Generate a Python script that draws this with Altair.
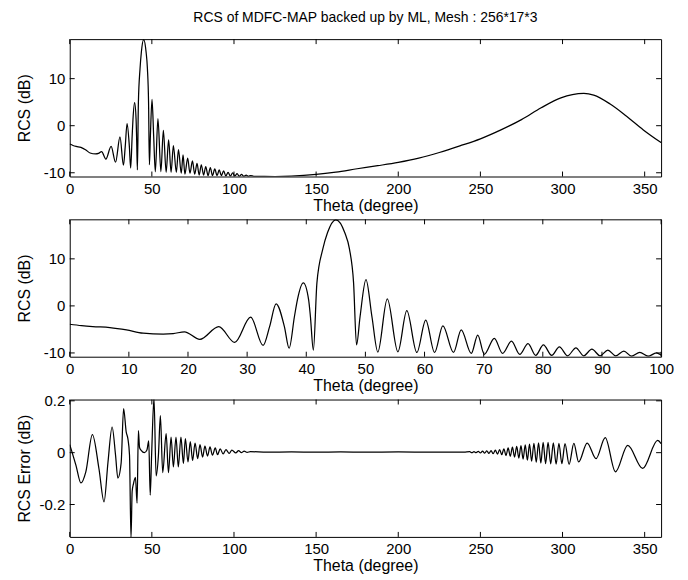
import altair as alt
import pandas as pd

TITLE = "RCS of MDFC-MAP backed up by ML, Mesh : 256*17*3"
FONT = "Liberation Sans"

# RCS (dB) versus theta (degree)
rcs_theta = [0, 2, 3.9, 6.8, 9.6, 12.4, 15.8, 17.5, 19.4, 22.0, 25.2, 27.9, 30.6, 32.7,
             33.8, 34.9, 36.3, 37.1, 38.0, 38.5, 39.5, 40.4, 40.7, 41.2, 41.8, 42.8, 43.6,
             45.0, 46.5, 47.3, 48.0, 48.5, 49.1, 50.1, 51.1, 52.1, 53.7, 55.5, 57.0, 58.7,
             60.2, 61.7, 63.1, 64.9, 66.2, 67.9, 69.0, 70.1, 71.8, 73.2, 74.7, 76.1, 77.5,
             78.8, 80.1, 81.5, 82.8, 84.2, 85.6, 86.9, 88.3, 89.7, 91.0, 92.3, 93.7, 95.0,
             96.4, 97.8, 99.2, 100.5, 101.9, 103.2, 104.6, 106.0, 107.4, 108.8, 110.2, 112,
             118, 125, 135, 150, 162, 175, 187.5, 200, 212.5, 225, 237.5, 250, 262.5, 275,
             287, 299, 306, 313, 319, 329, 339, 349.2, 360]
rcs_db = [-3.9, -4.2, -4.4, -4.6, -5.1, -5.8, -6.0, -5.9, -5.5, -7.1, -4.4, -7.75, -2.4, -8.4,
          -4.4, 0.45, -4.4, -9.0, -2.25, 1.3, 4.9, 1.3, -2.25, -9.4, 4.9, 12.1, 15.6,
          18.3, 15.6, 12.1, 4.9, -8.3, -2.25, 5.6, -2.25, -9.8, 1.5, -9.75, -1.0, -9.9,
          -3.0, -9.9, -4.25, -9.9, -5.1, -10.1, -6.2, -10.3, -6.9, -10.1, -7.5, -10.3, -8.0,
          -10.5, -8.3, -10.5, -8.7, -10.6, -8.9, -10.6, -9.2, -10.6, -9.4, -10.6, -9.6, -10.7,
          -9.9, -10.7, -10.0, -10.7, -10.2, -10.75, -10.35, -10.75, -10.5, -10.75, -10.6, -10.75,
          -10.78, -10.8, -10.72, -10.35, -9.85, -9.15, -8.5, -7.8, -6.9, -5.7, -4.3, -2.8, -0.9,
          1.3, 3.8, 5.9, 6.6, 6.85, 6.5, 4.6, 2.0, -0.9, -3.6]

# RCS error (dB) versus theta (degree)
err_theta = [0, 1.5, 3.8, 6.8, 9.8, 13.8, 17.8, 20.9, 23.3, 25.8, 27.9, 29.3, 31.3, 32.8,
             34.4, 35.4, 36.4, 37.3, 38.0, 38.8, 40.0, 41.0, 41.8, 42.5, 43.5, 45.5, 47.0,
             48.1, 49.0, 49.9, 51.3, 52.6, 54.0, 55.2, 56.6, 58.7, 60.1, 61.7, 63.1, 64.7,
             66.1, 67.7, 69.2, 70.4, 72.0, 73.4, 74.8, 76.3, 77.9, 79.3, 80.9, 82.3, 83.9,
             85.4, 86.9, 88.6, 90.0, 91.6, 93.4, 95.1, 97.1, 98.7, 101.1, 102.8, 104.5, 106.2,
             108, 110, 120, 135, 150, 165, 180, 200, 220, 240,
             243.5, 244.8, 246.1, 247.4, 248.7, 250.0, 251.3, 252.6, 253.9, 255.2, 256.5,
             257.8, 259.1, 260.4, 261.7, 263.0, 264.3, 265.6, 266.9, 268.2, 269.5, 270.8,
             272.1, 273.4, 274.7, 276.0, 277.3, 278.6, 279.9, 281.2, 282.6, 284.0, 285.4,
             286.8, 288.2, 289.7, 291.2, 292.8, 294.4, 296.1, 297.8, 299.6, 301.5, 304.0,
             306.9, 309.8, 315.0, 320.4, 326.0, 332.2, 339.7, 348.8, 357.9, 360]
err_db = [0.031, 0.0, -0.049, -0.117, -0.074, 0.07, -0.062, -0.19, -0.036, 0.099, -0.01, -0.098,
          -0.04, 0.17, 0.079, 0.054, -0.01, -0.33, -0.15, -0.12, -0.095, -0.195, 0.085, 0.02,
          0.009, 0.0, 0.01, 0.045, -0.164, 0.0, 0.21, -0.09, -0.01, 0.143, -0.077, 0.073,
          -0.077, 0.06, -0.055, 0.06, -0.055, 0.06, -0.042, 0.054, -0.036, 0.043, -0.03,
          0.037, -0.023, 0.031, -0.017, 0.025, -0.013, 0.022, -0.01, 0.018, -0.008, 0.015,
          -0.005, 0.012, -0.003, 0.01, -0.001, 0.008, 0.0, 0.006, 0.001, 0.004, 0.002, 0.003,
          0.002, 0.003, 0.002, 0.003, 0.002, 0.002,
          0.004, 0.0, 0.004, 0.0, 0.005, -0.001, 0.006, -0.002, 0.007, -0.003, 0.008,
          -0.004, 0.010, -0.006, 0.012, -0.008, 0.015, -0.011, 0.018, -0.014, 0.021, -0.017,
          0.024, -0.021, 0.027, -0.025, 0.030, -0.029, 0.033, -0.033, 0.036, -0.037, 0.038,
          -0.040, 0.040, -0.042, 0.040, -0.043, 0.038, -0.044, 0.036, -0.042, 0.035, -0.045,
          0.036, -0.036, 0.037, -0.023, 0.058, -0.074, 0.028, -0.061, 0.047, 0.035]

x_ticks_full = [0, 50, 100, 150, 200, 250, 300, 350]
x_ticks_zoom = [0, 10, 20, 30, 40, 50, 60, 70, 80, 90, 100]
y_ticks_rcs = [-10, 0, 10]
y_ticks_err = [-0.2, 0, 0.2]

W, H = 594, 138
TICK = 5

rcs_df = pd.DataFrame({"theta": rcs_theta, "val": rcs_db})
rcs_zoom_df = rcs_df[rcs_df["theta"] <= 102].reset_index(drop=True)
err_df = pd.DataFrame({"theta": err_theta, "val": err_db})


def panel(df, xdom, xticks, ydom, yticks, ytitle):
    x = alt.X("theta:Q",
              scale=alt.Scale(domain=xdom, nice=False, zero=False),
              axis=alt.Axis(values=xticks, title="Theta (degree)", ticks=False, domain=False,
                            grid=False, labelPadding=5, titlePadding=1, labelExpr="datum.value",
                            labelFlush=False))
    y = alt.Y("val:Q",
              scale=alt.Scale(domain=ydom, nice=False, zero=False),
              axis=alt.Axis(values=yticks, title=ytitle, ticks=False, domain=False,
                            grid=False, labelPadding=5, titleX=-37, labelExpr="datum.value",
                            labelFlush=False))
    line = alt.Chart(df).mark_line(color="black", strokeWidth=1.25, interpolate="monotone",
                                   clip=True).encode(x=x, y=y)
    xt = pd.DataFrame({"theta": xticks})
    yt = pd.DataFrame({"val": yticks})
    bottom = alt.Chart(xt).mark_rule(color="black", strokeWidth=1).encode(
        x=x, y=alt.value(H), y2=alt.value(H - TICK))
    top = alt.Chart(xt).mark_rule(color="black", strokeWidth=1).encode(
        x=x, y=alt.value(0), y2=alt.value(TICK))
    left = alt.Chart(yt).mark_rule(color="black", strokeWidth=1).encode(
        y=y, x=alt.value(0), x2=alt.value(TICK))
    right = alt.Chart(yt).mark_rule(color="black", strokeWidth=1).encode(
        y=y, x=alt.value(W - TICK), x2=alt.value(W))
    return alt.layer(line, bottom, top, left, right).properties(width=W, height=H)


p1 = panel(rcs_df, [0, 360], x_ticks_full, [-10.8, 18.4], y_ticks_rcs, "RCS (dB)")
p2 = panel(rcs_zoom_df, [0, 100], x_ticks_zoom, [-10.8, 18.4], y_ticks_rcs, "RCS (dB)")
p3 = panel(err_df, [0, 360], x_ticks_full, [-0.325, 0.205], y_ticks_err, "RCS Error (dB)")

chart = alt.vconcat(p1, p2, p3, spacing=43, bounds="flush").properties(
    title=alt.Title(TITLE, font=FONT, fontSize=14, fontWeight="normal", color="black",
                    offset=13, anchor="middle", frame="group"),
    padding={"left": 8, "top": 2, "right": 5, "bottom": 0},
).configure_view(stroke="black", strokeWidth=1).configure_axis(
    labelFont=FONT, titleFont=FONT, labelFontSize=15, titleFontSize=16,
    titleFontWeight="normal", labelColor="black", titleColor="black",
)

chart.save("out.html", embed_options={"renderer": "svg", "actions": False})
